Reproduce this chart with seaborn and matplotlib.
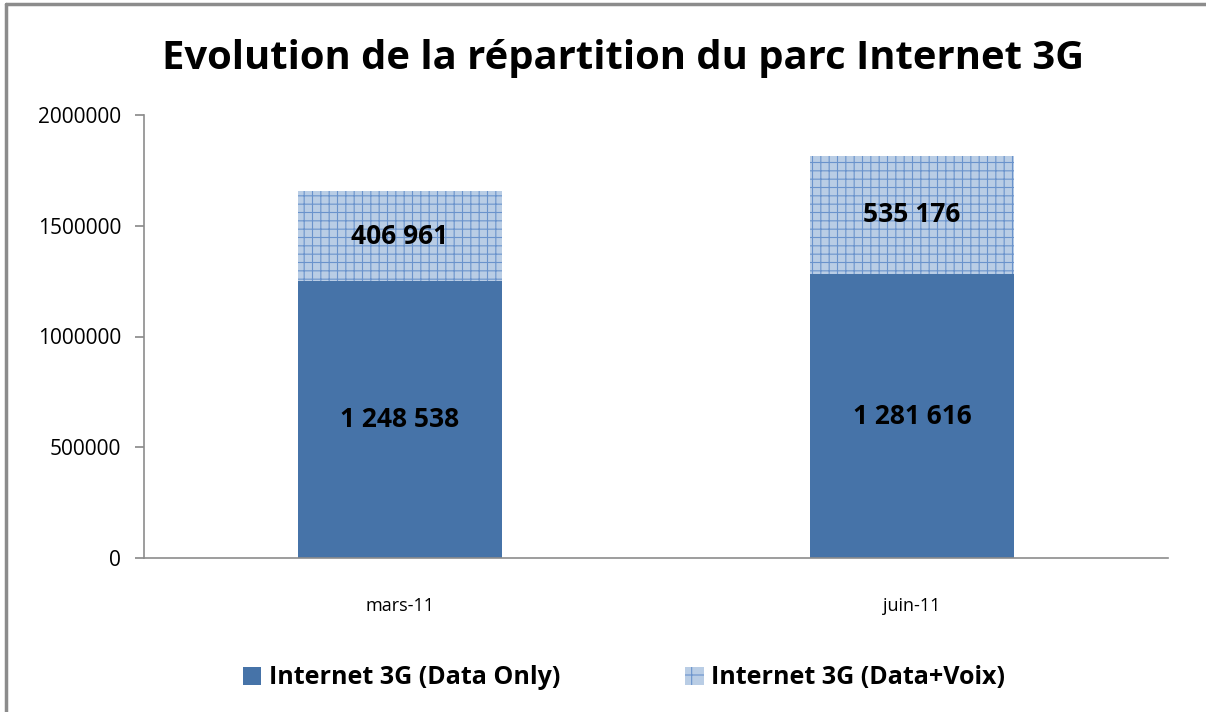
"""
plot.py
Evolution de la répartition du parc Internet 3G — stacked bars, saved to out.png.
"""

import matplotlib.pyplot as plt
import matplotlib.patches as mpatches
from matplotlib.lines import Line2D
import pandas as pd
import seaborn as sns

periods = ["mars-11", "juin-11"]
data_only = [1248538, 1281616]
data_voix = [406961, 535176]
series_names = ["Internet 3G (Data Only)", "Internet 3G (Data+Voix)"]
y_ticks = [0, 500000, 1000000, 1500000, 2000000]

DARK = "#4673a8"
LIGHT = "#b9cde5"
GRID = "#6a93cc"
AXIS = "#8c8c8c"


def fmt(v):
    return f"{v:,}".replace(",", " ")


sns.set_theme(style="white")
plt.rcParams["font.family"] = ["Open Sans", "DejaVu Sans"]
plt.rcParams["hatch.linewidth"] = 0.8
plt.rcParams["text.color"] = "black"
plt.rcParams["xtick.color"] = "black"
plt.rcParams["ytick.color"] = "black"

df = pd.DataFrame({"period": periods, "only": data_only, "voix": data_voix})
df["total"] = df["only"] + df["voix"]

fig = plt.figure(figsize=(12.06, 7.12), dpi=100)
ax = fig.add_axes([144 / 1206, 1 - 558 / 712, 1024 / 1206, 443 / 712])

# frame: only the top and left edges show in the reference
fig.add_artist(Line2D([6 / 1206, 6 / 1206], [0, 1 - 4 / 712], transform=fig.transFigure,
                      color=AXIS, linewidth=2.5))
fig.add_artist(Line2D([6 / 1206, 1], [1 - 4 / 712, 1 - 4 / 712], transform=fig.transFigure,
                      color=AXIS, linewidth=2.5))

# total bar (hatched) first, then the Data Only part drawn over it
sns.barplot(data=df, x="period", y="total", color=LIGHT, width=0.4,
            saturation=1, ax=ax, hatch="++", edgecolor=GRID, linewidth=0)
sns.barplot(data=df, x="period", y="only", color=DARK, width=0.4,
            saturation=1, ax=ax, linewidth=0)

for i, row in df.iterrows():
    ax.text(i, row["only"] * 0.5, fmt(row["only"]), ha="center", va="center",
            fontsize=19, fontweight="bold")
    ax.text(i, row["only"] + row["voix"] * 0.5, fmt(row["voix"]), ha="center",
            va="center", fontsize=19, fontweight="bold")

ax.set_xlim(-0.5, 1.5)
ax.set_ylim(0, 2000000)
ax.set_yticks(y_ticks)
ax.set_yticklabels([str(t) for t in y_ticks], fontsize=15)
ax.set_xticks([0, 1])
ax.set_xticklabels(periods, fontsize=13)
ax.set_xticks([-0.5, 0.5, 1.5], minor=True)
ax.tick_params(axis="x", which="major", length=0, pad=28)
ax.tick_params(axis="x", which="minor", length=6.5, color=AXIS, direction="out")
ax.tick_params(axis="y", length=6.5, color=AXIS, direction="out", left=True, pad=10)
ax.set_xlabel("")
ax.set_ylabel("")
for side in ["top", "right"]:
    ax.spines[side].set_visible(False)
for side in ["left", "bottom"]:
    ax.spines[side].set_color(AXIS)
    ax.spines[side].set_linewidth(1.2)

fig.text(623 / 1206, 1 - 58 / 712, "Evolution de la répartition du parc Internet 3G",
         ha="center", va="center", fontsize=28.8, fontweight="bold")

handles = [mpatches.Patch(facecolor=DARK, linewidth=0),
           mpatches.Patch(facecolor=LIGHT, hatch="+", edgecolor=GRID, linewidth=0)]
fig.legend(handles, series_names, loc="center", bbox_to_anchor=(624 / 1206, 1 - 678 / 712),
           ncol=2, frameon=False, prop={"weight": "bold", "size": 18},
           handlelength=0.75, handleheight=0.75, columnspacing=5, handletextpad=0.3)

fig.savefig("out.png", dpi=100)
